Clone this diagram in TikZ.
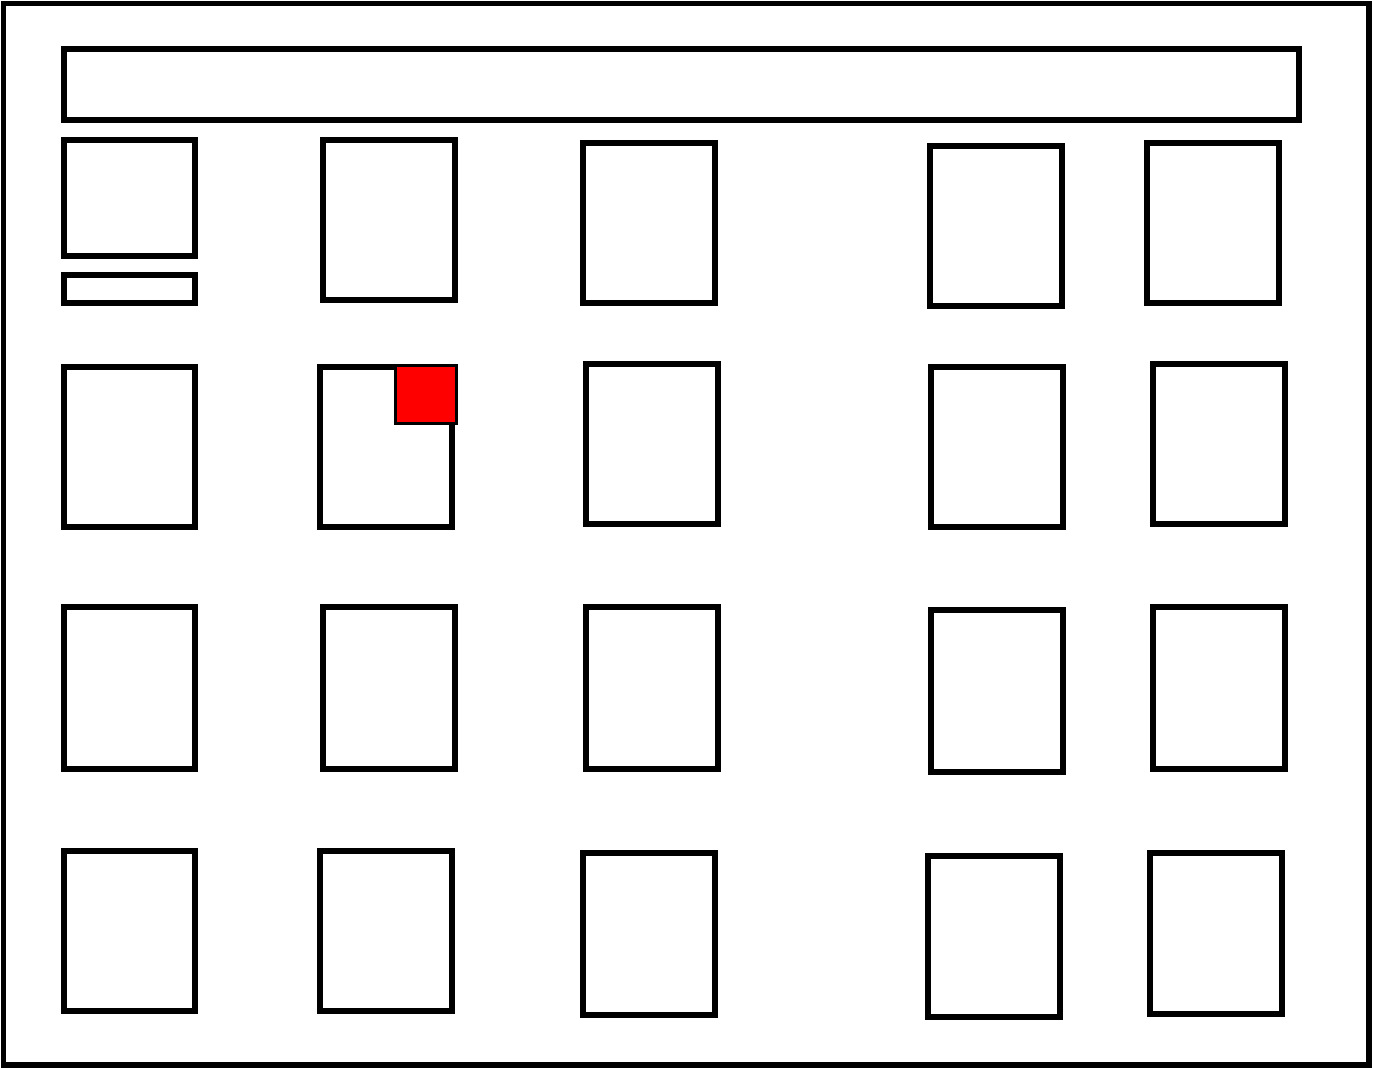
\documentclass[tikz,border=0pt]{standalone}
\usepackage{tikz}
\usetikzlibrary{positioning}
\definecolor{MarkRed}{RGB}{255,0,0}
\tikzset{
  box/.style={draw=black, line width=3.4pt},
  markbox/.style={draw=black, line width=1.7pt, fill=MarkRed}
}
\begin{document}
\begin{tikzpicture}[x=0.02cm, y=-0.02cm]
      \useasboundingbox (0,0) rectangle (1373,1068);
      % outer frame
      \draw[box] (3.5,3.5) rectangle (1369,1065);
      % header bar
      \draw[box] (64,49) rectangle (1299,120);

      % first row
      \draw[box] (64,140) rectangle (195,256);
      \draw[box] (64,275) rectangle (195,303);
      \draw[box] (323,140) rectangle (455,300);
      \draw[box] (583,143) rectangle (715,303);
      \draw[box] (930,146) rectangle (1062,306);
      \draw[box] (1147,143) rectangle (1279,303);

      % second row
      \draw[box] (64,367) rectangle (195,527);
      \draw[box] (320,367) rectangle (452,527);
      \draw[markbox] (395.5,365.5) rectangle (456.5,423.5);
      \draw[box] (586,364) rectangle (718,524);
      \draw[box] (931,367) rectangle (1063,527);
      \draw[box] (1153,364) rectangle (1285,524);

      % third row
      \draw[box] (64,607) rectangle (195,769);
      \draw[box] (323,607) rectangle (455,769);
      \draw[box] (586,607) rectangle (718,769);
      \draw[box] (931,610) rectangle (1063,772);
      \draw[box] (1153,607) rectangle (1285,769);

      % fourth row
      \draw[box] (64,851) rectangle (195,1011);
      \draw[box] (320,851) rectangle (452,1011);
      \draw[box] (583,853) rectangle (715,1015);
      \draw[box] (928,856) rectangle (1060,1017);
      \draw[box] (1150,853) rectangle (1282,1014);
\end{tikzpicture}
\end{document}
